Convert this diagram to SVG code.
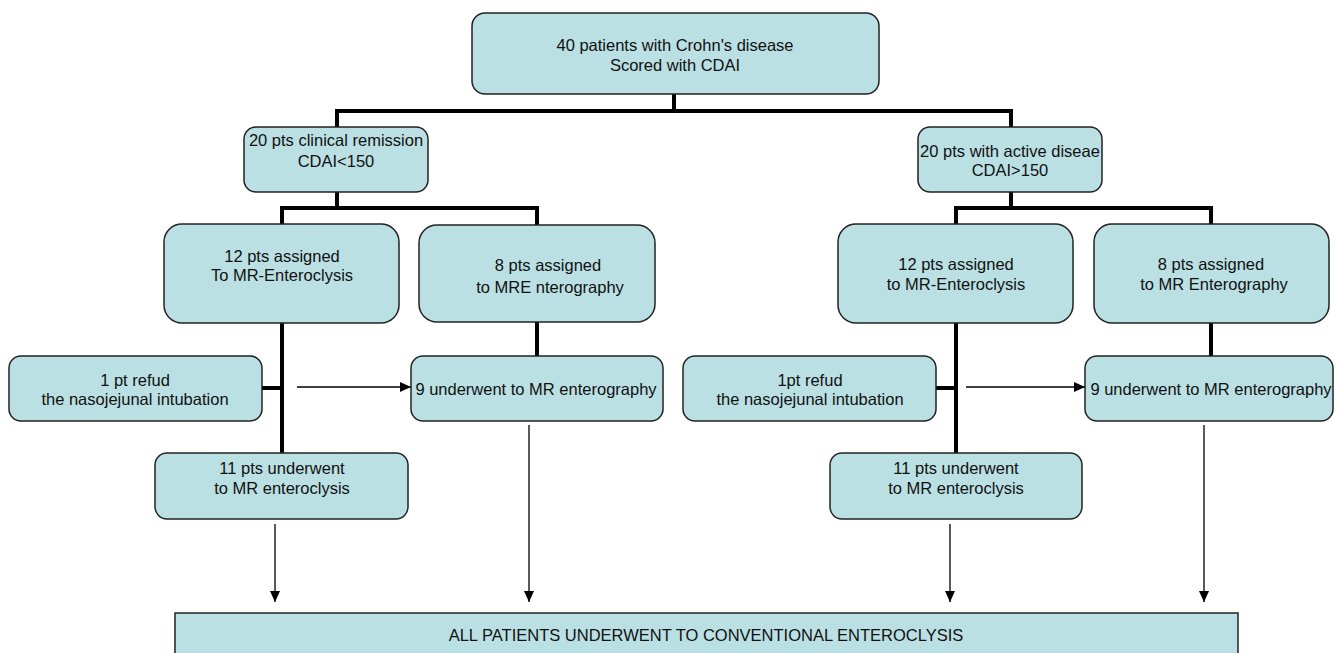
<svg xmlns="http://www.w3.org/2000/svg" width="1334" height="653" viewBox="0 0 1334 653">
<defs>
<marker id="ah" markerUnits="userSpaceOnUse" markerWidth="12" markerHeight="10" refX="11" refY="5" orient="auto">
<path d="M0,0 L11,5 L0,10 Z" fill="#000"/>
</marker>
<style>
.box{fill:#bae0e3;stroke:#222;stroke-width:1.5}
.t{font-family:"Liberation Sans",Arial,sans-serif;font-size:16.5px;fill:#111;text-anchor:middle;dominant-baseline:central}
.thick{stroke:#000;stroke-width:4;fill:none}
.thin{stroke:#000;stroke-width:1.3;fill:none;marker-end:url(#ah)}
</style>
</defs>
<rect width="1334" height="653" fill="#fff"/>
<g id="connectors">
<path class="thick" d="M674,94 V111 M337,111 H1011 M337,109 V127 M1011,109 V127"/>
<path class="thick" d="M337,192 V208 M282,208 H537 M282,206 V224 M537,206 V225"/>
<path class="thick" d="M1011,192 V208 M956,208 H1211 M956,206 V224 M1211,206 V224"/>
<path class="thick" d="M282,323 V453 M262,388 H282"/>
<path class="thick" d="M537,322 V356"/>
<path class="thick" d="M956,323 V453 M936,388 H956"/>
<path class="thick" d="M1211,323 V356"/>
<line class="thin" x1="297" y1="387" x2="411" y2="387"/>
<line class="thin" x1="966" y1="387" x2="1085" y2="387"/>
<line class="thin" x1="275" y1="524" x2="275" y2="602"/>
<line class="thin" x1="529" y1="425" x2="529" y2="602"/>
<line class="thin" x1="950" y1="524" x2="950" y2="602"/>
<line class="thin" x1="1204" y1="425" x2="1204" y2="602"/>
</g>
<g id="top">
<rect class="box" x="472" y="13" width="407" height="81" rx="13"/>
<text class="t" x="675" y="45">40 patients with Crohn's disease</text>
<text class="t" x="675" y="65">Scored with CDAI</text>
</g>
<g id="remission">
<rect class="box" x="244" y="127" width="184" height="65" rx="12"/>
<text class="t" x="336" y="140">20 pts clinical remission</text>
<text class="t" x="336" y="161">CDAI&lt;150</text>
</g>
<g id="active">
<rect class="box" x="918" y="127" width="184" height="65" rx="12"/>
<text class="t" x="1010" y="151">20 pts with active diseae</text>
<text class="t" x="1010" y="170">CDAI&gt;150</text>
</g>
<g id="l12">
<rect class="box" x="164" y="224" width="235" height="99" rx="18"/>
<text class="t" x="282" y="256">12 pts assigned</text>
<text class="t" x="282" y="275">To MR-Enteroclysis</text>
</g>
<g id="l8">
<rect class="box" x="419" y="225" width="236" height="97" rx="18"/>
<text class="t" x="548" y="265">8 pts assigned</text>
<text class="t" x="550" y="287">to MRE nterography</text>
</g>
<g id="r12">
<rect class="box" x="838" y="224" width="235" height="99" rx="18"/>
<text class="t" x="956" y="264">12 pts assigned</text>
<text class="t" x="956" y="284">to MR-Enteroclysis</text>
</g>
<g id="r8">
<rect class="box" x="1094" y="224" width="235" height="99" rx="18"/>
<text class="t" x="1211" y="264">8 pts assigned</text>
<text class="t" x="1214" y="284">to MR Enterography</text>
</g>
<g id="lrefused">
<rect class="box" x="9" y="356" width="253" height="65" rx="12"/>
<text class="t" x="135" y="380">1 pt refud</text>
<text class="t" x="135" y="399">the nasojejunal intubation</text>
</g>
<g id="l9">
<rect class="box" x="411" y="356" width="252" height="65" rx="12"/>
<text class="t" x="536" y="389">9 underwent to MR enterography</text>
</g>
<g id="rrefused">
<rect class="box" x="683" y="356" width="253" height="65" rx="12"/>
<text class="t" x="810" y="380">1pt refud</text>
<text class="t" x="810" y="399">the nasojejunal intubation</text>
</g>
<g id="r9">
<rect class="box" x="1085" y="356" width="248" height="65" rx="12"/>
<text class="t" x="1211" y="389">9 underwent to MR enterography</text>
</g>
<g id="l11">
<rect class="box" x="155" y="453" width="253" height="66" rx="12"/>
<text class="t" x="282" y="468">11 pts underwent</text>
<text class="t" x="282" y="488">to MR enteroclysis</text>
</g>
<g id="r11">
<rect class="box" x="830" y="453" width="252" height="66" rx="12"/>
<text class="t" x="956" y="468">11 pts underwent</text>
<text class="t" x="956" y="488">to MR enteroclysis</text>
</g>
<g id="bottom">
<rect class="box" x="175" y="613" width="1063" height="60"/>
<text class="t" x="706" y="635">ALL PATIENTS UNDERWENT TO CONVENTIONAL ENTEROCLYSIS</text>
</g>
</svg>
